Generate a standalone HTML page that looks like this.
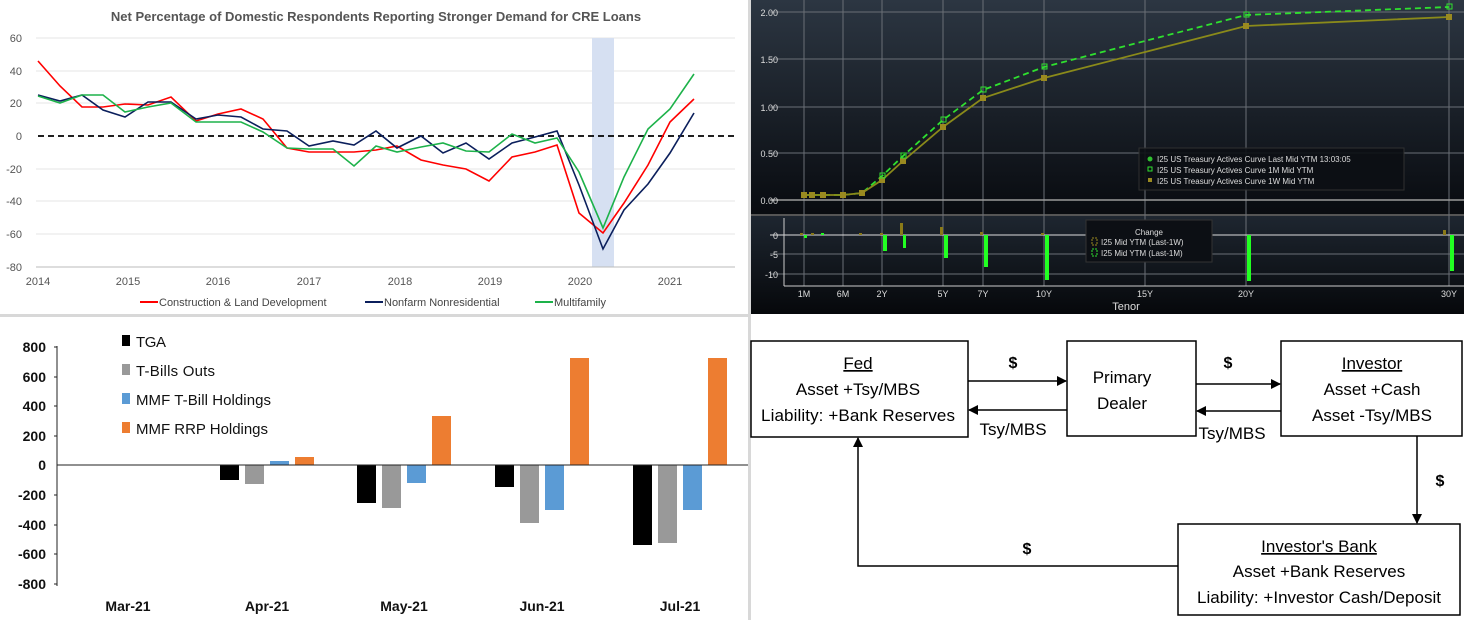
<!DOCTYPE html>
<html><head><meta charset="utf-8"><style>
body{margin:0;background:#fff;}
svg{display:block;font-family:"Liberation Sans",sans-serif;}
</style></head><body>
<svg width="1464" height="620" viewBox="0 0 1464 620" xmlns="http://www.w3.org/2000/svg">
<defs>
<linearGradient id="bg" x1="0" y1="0" x2="0" y2="1">
<stop offset="0" stop-color="#2c3642"/><stop offset="0.65" stop-color="#0a0d12"/><stop offset="1" stop-color="#000"/>
</linearGradient>
<linearGradient id="bg2" x1="0" y1="0" x2="0" y2="1">
<stop offset="0" stop-color="#1e2630"/><stop offset="1" stop-color="#06080b"/>
</linearGradient>
<marker id="ah" markerWidth="10" markerHeight="10" refX="9" refY="5" orient="auto" markerUnits="userSpaceOnUse"><path d="M0,0 L10,5 L0,10 z" fill="#000"/></marker>
</defs>
<rect x="0" y="0" width="1464" height="620" fill="#fff"/>
<rect x="0" y="314" width="750" height="3" fill="#d8d8d8"/>
<rect x="748" y="0" width="3" height="620" fill="#d8d8d8"/>

<!-- TOP LEFT -->
<text x="376" y="21" font-size="13" font-weight="bold" fill="#555" text-anchor="middle">Net Percentage of Domestic Respondents Reporting Stronger Demand for CRE Loans</text>
<g stroke="#e6e6e6" stroke-width="1">
<line x1="36" y1="38" x2="735" y2="38"/><line x1="36" y1="71" x2="735" y2="71"/><line x1="36" y1="103" x2="735" y2="103"/>
<line x1="36" y1="169" x2="735" y2="169"/><line x1="36" y1="201" x2="735" y2="201"/><line x1="36" y1="234" x2="735" y2="234"/>
</g>
<rect x="592" y="38" width="22" height="229" fill="#d6e0f2"/>
<line x1="36" y1="267" x2="735" y2="267" stroke="#bbb"/>
<g font-size="11" fill="#555" text-anchor="end">
<text x="22" y="42">60</text><text x="22" y="75">40</text><text x="22" y="107">20</text><text x="22" y="140">0</text>
<text x="22" y="173">-20</text><text x="22" y="205">-40</text><text x="22" y="238">-60</text><text x="22" y="271">-80</text>
</g>
<g font-size="11" fill="#555" text-anchor="middle">
<text x="38" y="285">2014</text><text x="128" y="285">2015</text><text x="218" y="285">2016</text><text x="309" y="285">2017</text>
<text x="400" y="285">2018</text><text x="490" y="285">2019</text><text x="580" y="285">2020</text><text x="670" y="285">2021</text>
</g>
<line x1="38" y1="136" x2="738" y2="136" stroke="#000" stroke-width="1.8" stroke-dasharray="6,4"/>
<polyline fill="none" stroke="#ff0000" stroke-width="1.6" points="38,61 60,86 82,107 103,107 125,104 148,105 171,97 196,121 218,114 241,109 263,119 287,148 309,152 333,152 354,152 376,150 397,146 421,160 443,165 466,169 489,181 512,157 535,152 557,145 579,213 603,233 624,203 648,165 670,122 694,99"/>
<polyline fill="none" stroke="#0b1f5c" stroke-width="1.6" points="38,95 60,101 82,95 103,110 125,117 148,102 171,102 196,119 218,115 241,117 263,129 287,131 309,146 333,141 354,145 376,131 397,148 421,136 443,153 466,143 489,159 512,143 535,137 557,131 579,185 603,249 624,210 648,184 670,153 694,113"/>
<polyline fill="none" stroke="#1db24a" stroke-width="1.6" points="38,96 60,103 82,95 103,95 125,112 148,107 171,103 196,122 218,122 241,122 263,132 287,148 309,149 333,149 354,166 376,146 397,152 421,147 443,143 466,151 489,152 512,134 535,143 557,138 579,172 603,228 624,177 648,129 670,109 694,74"/>
<g font-size="11" fill="#444">
<line x1="140" y1="302" x2="158" y2="302" stroke="#f00" stroke-width="2"/><text x="159" y="306">Construction &amp; Land Development</text>
<line x1="365" y1="302" x2="383" y2="302" stroke="#0b1f5c" stroke-width="2"/><text x="384" y="306">Nonfarm Nonresidential</text>
<line x1="535" y1="302" x2="553" y2="302" stroke="#1db24a" stroke-width="2"/><text x="554" y="306">Multifamily</text>
</g>

<!-- TOP RIGHT -->
<rect x="751" y="0" width="713" height="314" fill="url(#bg)"/>
<rect x="751" y="216" width="713" height="98" fill="url(#bg2)"/>
<line x1="751" y1="215" x2="1464" y2="215" stroke="#555" stroke-width="2"/>
<g stroke="#6a6f76" stroke-width="1">
<line x1="804" y1="0" x2="804" y2="286"/><line x1="843" y1="0" x2="843" y2="286"/><line x1="882" y1="0" x2="882" y2="286"/>
<line x1="943" y1="0" x2="943" y2="286"/><line x1="983" y1="0" x2="983" y2="286"/><line x1="1044" y1="0" x2="1044" y2="286"/>
<line x1="1145" y1="0" x2="1145" y2="286"/><line x1="1246" y1="0" x2="1246" y2="286"/><line x1="1449" y1="0" x2="1449" y2="286"/>
<line x1="770" y1="12" x2="1464" y2="12"/><line x1="770" y1="59" x2="1464" y2="59"/><line x1="770" y1="107" x2="1464" y2="107"/>
<line x1="770" y1="153" x2="1464" y2="153"/><line x1="770" y1="254" x2="1464" y2="254"/><line x1="770" y1="274" x2="1464" y2="274"/>
</g>
<line x1="770" y1="200" x2="1464" y2="200" stroke="#9a9a9a" stroke-width="1.5"/>
<line x1="770" y1="235" x2="1464" y2="235" stroke="#ddd" stroke-width="1"/>
<line x1="784" y1="286" x2="1464" y2="286" stroke="#ccc"/>
<line x1="784" y1="218" x2="784" y2="286" stroke="#ccc"/>
<g font-size="9" fill="#ddd" text-anchor="end">
<text x="778" y="16">2.00</text><text x="778" y="63">1.50</text><text x="778" y="111">1.00</text><text x="778" y="157">0.50</text><text x="778" y="204">0.00</text>
<text x="778" y="239">0</text><text x="778" y="258">-5</text><text x="778" y="278">-10</text>
</g>
<g font-size="9" fill="#ddd" text-anchor="middle">
<text x="804" y="297">1M</text><text x="843" y="297">6M</text><text x="882" y="297">2Y</text><text x="943" y="297">5Y</text><text x="983" y="297">7Y</text>
<text x="1044" y="297">10Y</text><text x="1145" y="297">15Y</text><text x="1246" y="297">20Y</text><text x="1449" y="297">30Y</text>
<text x="1126" y="310" font-size="11">Tenor</text>
</g>
<polyline fill="none" stroke="#2fe02f" stroke-width="1.8" stroke-dasharray="6,4" points="804,195 812,195 823,195 843,195 862,193 882,176 903,156 943,120 983,90 1044,67 1246,15 1449,7"/>
<polyline fill="none" stroke="#8a8a1a" stroke-width="1.8" points="804,195 812,195 823,195 843,195 862,193 882,180 903,161 943,127 983,98 1044,78 1246,26 1449,17"/>
<g fill="#9a8a20">
<rect x="801" y="192" width="6" height="6"/><rect x="809" y="192" width="6" height="6"/><rect x="820" y="192" width="6" height="6"/><rect x="840" y="192" width="6" height="6"/>
<rect x="859" y="190" width="6" height="6"/><rect x="879" y="177" width="6" height="6"/><rect x="900" y="158" width="6" height="6"/><rect x="940" y="124" width="6" height="6"/>
<rect x="980" y="95" width="6" height="6"/><rect x="1041" y="75" width="6" height="6"/><rect x="1243" y="23" width="6" height="6"/><rect x="1446" y="14" width="6" height="6"/>
</g>
<g fill="none" stroke="#2fe02f" stroke-width="1">
<rect x="880" y="173" width="5" height="5"/><rect x="901" y="153" width="5" height="5"/><rect x="941" y="117" width="5" height="5"/>
<rect x="981" y="87" width="5" height="5"/><rect x="1042" y="64" width="5" height="5"/><rect x="1244" y="12" width="5" height="5"/><rect x="1447" y="4" width="5" height="5"/>
</g>
<g fill="#8a7a18">
<rect x="800" y="233" width="3" height="2"/><rect x="811" y="233" width="3" height="2"/><rect x="859" y="233" width="3" height="2"/>
<rect x="880" y="233" width="3" height="2"/><rect x="900" y="223" width="3" height="12"/><rect x="940" y="227" width="3" height="8"/>
<rect x="980" y="232" width="3" height="3"/><rect x="1041" y="233" width="3" height="2"/><rect x="1443" y="230" width="3" height="5"/>
</g>
<g fill="#22ff22">
<rect x="804" y="235" width="3" height="3"/><rect x="821" y="233" width="3" height="2"/><rect x="883" y="235" width="4" height="16"/><rect x="903" y="235" width="3" height="13"/>
<rect x="944" y="235" width="4" height="23"/><rect x="984" y="235" width="4" height="32"/><rect x="1045" y="235" width="4" height="45"/>
<rect x="1247" y="235" width="4" height="46"/><rect x="1450" y="235" width="4" height="36"/>
</g>
<rect x="1139" y="148" width="265" height="42" fill="#0c0f14" stroke="#333" opacity="0.9"/>
<g font-size="8" fill="#ddd">
<circle cx="1150" cy="159" r="2.5" fill="#2fbf2f"/><text x="1157" y="162">I25 US Treasury Actives Curve Last Mid YTM 13:03:05</text>
<rect x="1148" y="167" width="4" height="4" fill="none" stroke="#2fe02f"/><text x="1157" y="173">I25 US Treasury Actives Curve 1M Mid YTM</text>
<rect x="1148" y="178" width="4" height="4" fill="#9a8a20"/><text x="1157" y="184">I25 US Treasury Actives Curve 1W Mid YTM</text>
</g>
<rect x="1086" y="220" width="126" height="42" fill="#0c0f14" stroke="#333"/>
<g font-size="8" fill="#ddd">
<text x="1149" y="235" text-anchor="middle">Change</text>
<rect x="1092" y="238" width="5" height="7" fill="none" stroke="#9a8a20" stroke-dasharray="2,1"/><text x="1101" y="245">I25 Mid YTM (Last-1W)</text>
<rect x="1092" y="249" width="5" height="7" fill="none" stroke="#2fe02f" stroke-dasharray="2,1"/><text x="1101" y="256">I25 Mid YTM (Last-1M)</text>
</g>

<!-- BOTTOM LEFT -->
<g font-size="14" font-weight="bold" fill="#111" text-anchor="end">
<text x="46" y="352">800</text><text x="46" y="382">600</text><text x="46" y="411">400</text><text x="46" y="441">200</text>
<text x="46" y="470">0</text><text x="46" y="500">-200</text><text x="46" y="530">-400</text><text x="46" y="559">-600</text><text x="46" y="589">-800</text>
</g>
<line x1="57" y1="346" x2="57" y2="586" stroke="#222"/>
<g stroke="#222"><line x1="54" y1="347" x2="57" y2="347"/><line x1="54" y1="377" x2="57" y2="377"/><line x1="54" y1="406" x2="57" y2="406"/><line x1="54" y1="436" x2="57" y2="436"/><line x1="54" y1="495" x2="57" y2="495"/><line x1="54" y1="525" x2="57" y2="525"/><line x1="54" y1="554" x2="57" y2="554"/><line x1="54" y1="584" x2="57" y2="584"/></g>
<g fill="#000"><rect x="220" y="465" width="19" height="15"/><rect x="357" y="465" width="19" height="38"/><rect x="495" y="465" width="19" height="22"/><rect x="633" y="465" width="19" height="80"/></g>
<g fill="#999"><rect x="245" y="465" width="19" height="19"/><rect x="382" y="465" width="19" height="43"/><rect x="520" y="465" width="19" height="58"/><rect x="658" y="465" width="19" height="78"/></g>
<g fill="#5b9bd5"><rect x="270" y="461" width="19" height="4"/><rect x="407" y="465" width="19" height="18"/><rect x="545" y="465" width="19" height="45"/><rect x="683" y="465" width="19" height="45"/></g>
<g fill="#ed7d31"><rect x="295" y="457" width="19" height="8"/><rect x="432" y="416" width="19" height="49"/><rect x="570" y="358" width="19" height="107"/><rect x="708" y="358" width="19" height="107"/></g>
<line x1="57" y1="465" x2="748" y2="465" stroke="#222"/>
<g font-size="14" font-weight="bold" fill="#111" text-anchor="middle">
<text x="128" y="611">Mar-21</text><text x="267" y="611">Apr-21</text><text x="404" y="611">May-21</text><text x="542" y="611">Jun-21</text><text x="680" y="611">Jul-21</text>
</g>
<g font-size="15" fill="#111">
<rect x="122" y="335" width="8" height="11" fill="#000"/><text x="136" y="347" textLength="30">TGA</text>
<rect x="122" y="364" width="8" height="11" fill="#999"/><text x="136" y="376" textLength="79">T-Bills Outs</text>
<rect x="122" y="393" width="8" height="11" fill="#5b9bd5"/><text x="136" y="405" textLength="135">MMF T-Bill Holdings</text>
<rect x="122" y="422" width="8" height="11" fill="#ed7d31"/><text x="136" y="434" textLength="132">MMF RRP Holdings</text>
</g>

<!-- BOTTOM RIGHT -->
<g fill="#fff" stroke="#000" stroke-width="1.5">
<rect x="751" y="341" width="217" height="96"/><rect x="1067" y="341" width="129" height="95"/>
<rect x="1281" y="341" width="181" height="95"/><rect x="1178" y="524" width="282" height="91"/>
</g>
<g font-size="17" fill="#000" text-anchor="middle">
<text x="858" y="369" text-decoration="underline">Fed</text><text x="858" y="395">Asset +Tsy/MBS</text><text x="858" y="421" textLength="194">Liability: +Bank Reserves</text>
<text x="1122" y="383">Primary</text><text x="1122" y="409">Dealer</text>
<text x="1372" y="369" text-decoration="underline">Investor</text><text x="1372" y="395">Asset +Cash</text><text x="1372" y="421">Asset -Tsy/MBS</text>
<text x="1319" y="552" text-decoration="underline">Investor's Bank</text><text x="1319" y="577">Asset +Bank Reserves</text><text x="1319" y="603" textLength="244">Liability: +Investor Cash/Deposit</text>
<text x="1013" y="435">Tsy/MBS</text><text x="1232" y="439">Tsy/MBS</text>
</g>
<g font-size="16" font-weight="bold" fill="#000" text-anchor="middle">
<text x="1013" y="368">$</text><text x="1228" y="368">$</text><text x="1440" y="486">$</text><text x="1027" y="554">$</text>
</g>
<g stroke="#000" stroke-width="1.5" fill="none">
<line x1="968" y1="381" x2="1066" y2="381" marker-end="url(#ah)"/>
<line x1="1067" y1="410" x2="969" y2="410" marker-end="url(#ah)"/>
<line x1="1196" y1="384" x2="1280" y2="384" marker-end="url(#ah)"/>
<line x1="1281" y1="411" x2="1197" y2="411" marker-end="url(#ah)"/>
<line x1="1417" y1="436" x2="1417" y2="523" marker-end="url(#ah)"/>
<polyline points="1178,566 858,566 858,438" marker-end="url(#ah)"/>
</g>
</svg>
</body></html>
